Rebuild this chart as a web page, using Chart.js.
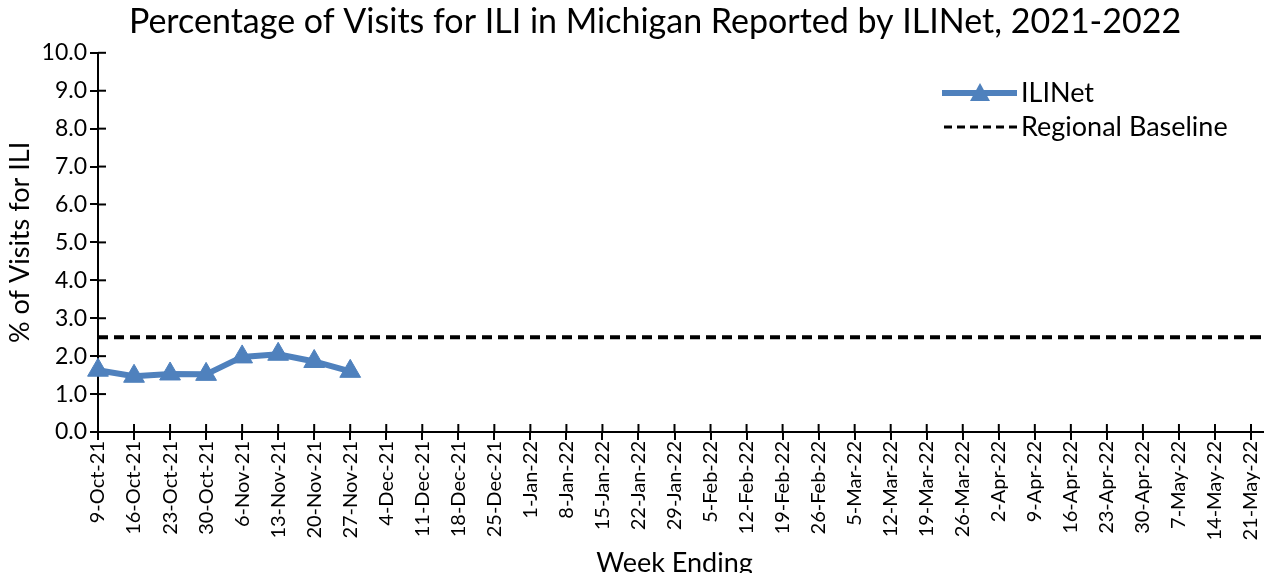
<!DOCTYPE html>
<html><head><meta charset="utf-8">
<script src="https://cdn.jsdelivr.net/npm/chart.js@4/dist/chart.umd.min.js"></script>
<style>html,body{margin:0;padding:0;background:#fff;overflow:hidden}#wrap{width:1264px;height:573px;position:relative}</style>
</head><body><div id="wrap"><canvas id="c" width="1264" height="573"></canvas></div>
<script>
const weeks = ["9-Oct-21","16-Oct-21","23-Oct-21","30-Oct-21","6-Nov-21","13-Nov-21","20-Nov-21","27-Nov-21","4-Dec-21","11-Dec-21","18-Dec-21","25-Dec-21","1-Jan-22","8-Jan-22","15-Jan-22","22-Jan-22","29-Jan-22","5-Feb-22","12-Feb-22","19-Feb-22","26-Feb-22","5-Mar-22","12-Mar-22","19-Mar-22","26-Mar-22","2-Apr-22","9-Apr-22","16-Apr-22","23-Apr-22","30-Apr-22","7-May-22","14-May-22","21-May-22"];
const iliValues = [1.63,1.47,1.53,1.52,1.98,2.05,1.86,1.60];
const baselineValue = 2.5;
const yTicks = [0,1,2,3,4,5,6,7,8,9,10];
const titleText = 'Percentage of Visits for ILI in Michigan Reported by ILINet, 2021-2022';

const iliData = weeks.map((w,i)=> i < iliValues.length ? iliValues[i] : null);
const baseData = weeks.map(()=>baselineValue);
const FONT = "Lato";

const crossTicks = {
  id:'crossTicks',
  afterDatasetsDraw(chart){
    const ctx = chart.ctx, ca = chart.chartArea;
    const x = chart.scales.x, y = chart.scales.y;
    ctx.save(); ctx.strokeStyle='#000'; ctx.lineWidth=2;
    yTicks.forEach(v=>{const py=y.getPixelForValue(v); ctx.beginPath(); ctx.moveTo(ca.left, py); ctx.lineTo(ca.left+8, py); ctx.stroke();});
    weeks.forEach((w,i)=>{const px=x.getPixelForValue(i); ctx.beginPath(); ctx.moveTo(px, ca.bottom); ctx.lineTo(px, ca.bottom-8); ctx.stroke();});
    ctx.beginPath(); ctx.moveTo(ca.left, ca.bottom); ctx.lineTo(chart.width, ca.bottom); ctx.stroke();
    ctx.strokeStyle='#000'; ctx.lineWidth=4; ctx.setLineDash([10,6]);
    const by = y.getPixelForValue(baselineValue);
    ctx.beginPath(); ctx.moveTo(ca.right, by); ctx.lineTo(chart.width, by); ctx.stroke();
    ctx.restore();
  }
};

const customLegend = {
  id:'customLegend',
  afterDraw(chart){
    const ctx = chart.ctx;
    ctx.save();
    ctx.fillStyle='#000'; ctx.font='34px '+FONT; ctx.textBaseline='middle'; ctx.textAlign='center';
    ctx.fillText(titleText,655,22);
    ctx.strokeStyle='#4f81bd'; ctx.lineWidth=6;
    ctx.beginPath(); ctx.moveTo(942,93); ctx.lineTo(1017,93); ctx.stroke();
    ctx.fillStyle='#4f81bd';
    ctx.beginPath(); ctx.moveTo(980,83); ctx.lineTo(990,101); ctx.lineTo(970,101); ctx.closePath(); ctx.fill();
    ctx.strokeStyle='#000'; ctx.lineWidth=3; ctx.setLineDash([8,5]);
    ctx.beginPath(); ctx.moveTo(944,127); ctx.lineTo(1017,127); ctx.stroke();
    ctx.setLineDash([]);
    ctx.fillStyle='#000'; ctx.font='27px '+FONT; ctx.textBaseline='middle'; ctx.textAlign='left';
    ctx.fillText('ILINet',1021,93);
    ctx.fillText('Regional Baseline',1021,127);
    ctx.restore();
  }
};

new Chart(document.getElementById('c'),{
  type:'line',
  data:{labels:weeks,datasets:[
    {label:'ILINet',data:iliData,borderColor:'#4f81bd',backgroundColor:'#4f81bd',borderWidth:6,pointStyle:'triangle',pointRadius:12,pointHoverRadius:12,pointBorderWidth:1,spanGaps:false,tension:0},
    {label:'Regional Baseline',data:baseData,borderColor:'#000',borderWidth:4,borderDash:[10,6],pointRadius:0,tension:0}
  ]},
  options:{
    responsive:false,animation:false,
    layout:{padding:{left:0,right:8,top:0,bottom:-6}},
    plugins:{legend:{display:false},tooltip:{enabled:false},
      title:{display:true,text:titleText,color:'rgba(0,0,0,0)',font:{family:FONT,size:34,weight:'normal'},padding:{top:2,bottom:10}}},
    scales:{
      x:{offset:false,
        afterFit(s){s.height=147; s.paddingRight=0; s.paddingLeft=0;},
        grid:{display:true,drawOnChartArea:false,drawTicks:true,tickLength:8,color:'#000',lineWidth:2},
        border:{display:true,color:'#000',width:2},
        ticks:{color:'#000',font:{family:FONT,size:20},minRotation:90,maxRotation:90,autoSkip:false,padding:1},
        title:{display:true,text:'Week Ending',color:'#000',font:{family:FONT,size:27},padding:{top:0,bottom:0}}},
      y:{min:0,max:10,
        afterFit(s){s.width=98;},
        afterBuildTicks(s){s.ticks=yTicks.map(v=>({value:v}));},
        grid:{display:true,drawOnChartArea:false,drawTicks:true,tickLength:8,color:'#000',lineWidth:2},
        border:{display:true,color:'#000',width:2},
        ticks:{color:'#000',font:{family:FONT,size:23},padding:3,callback:v=>Number(v).toFixed(1)},
        title:{display:true,text:'% of Visits for ILI',color:'#000',font:{family:FONT,size:27},padding:{top:4,bottom:0}}}
    }
  },
  plugins:[crossTicks,customLegend]
});
</script></body></html>
